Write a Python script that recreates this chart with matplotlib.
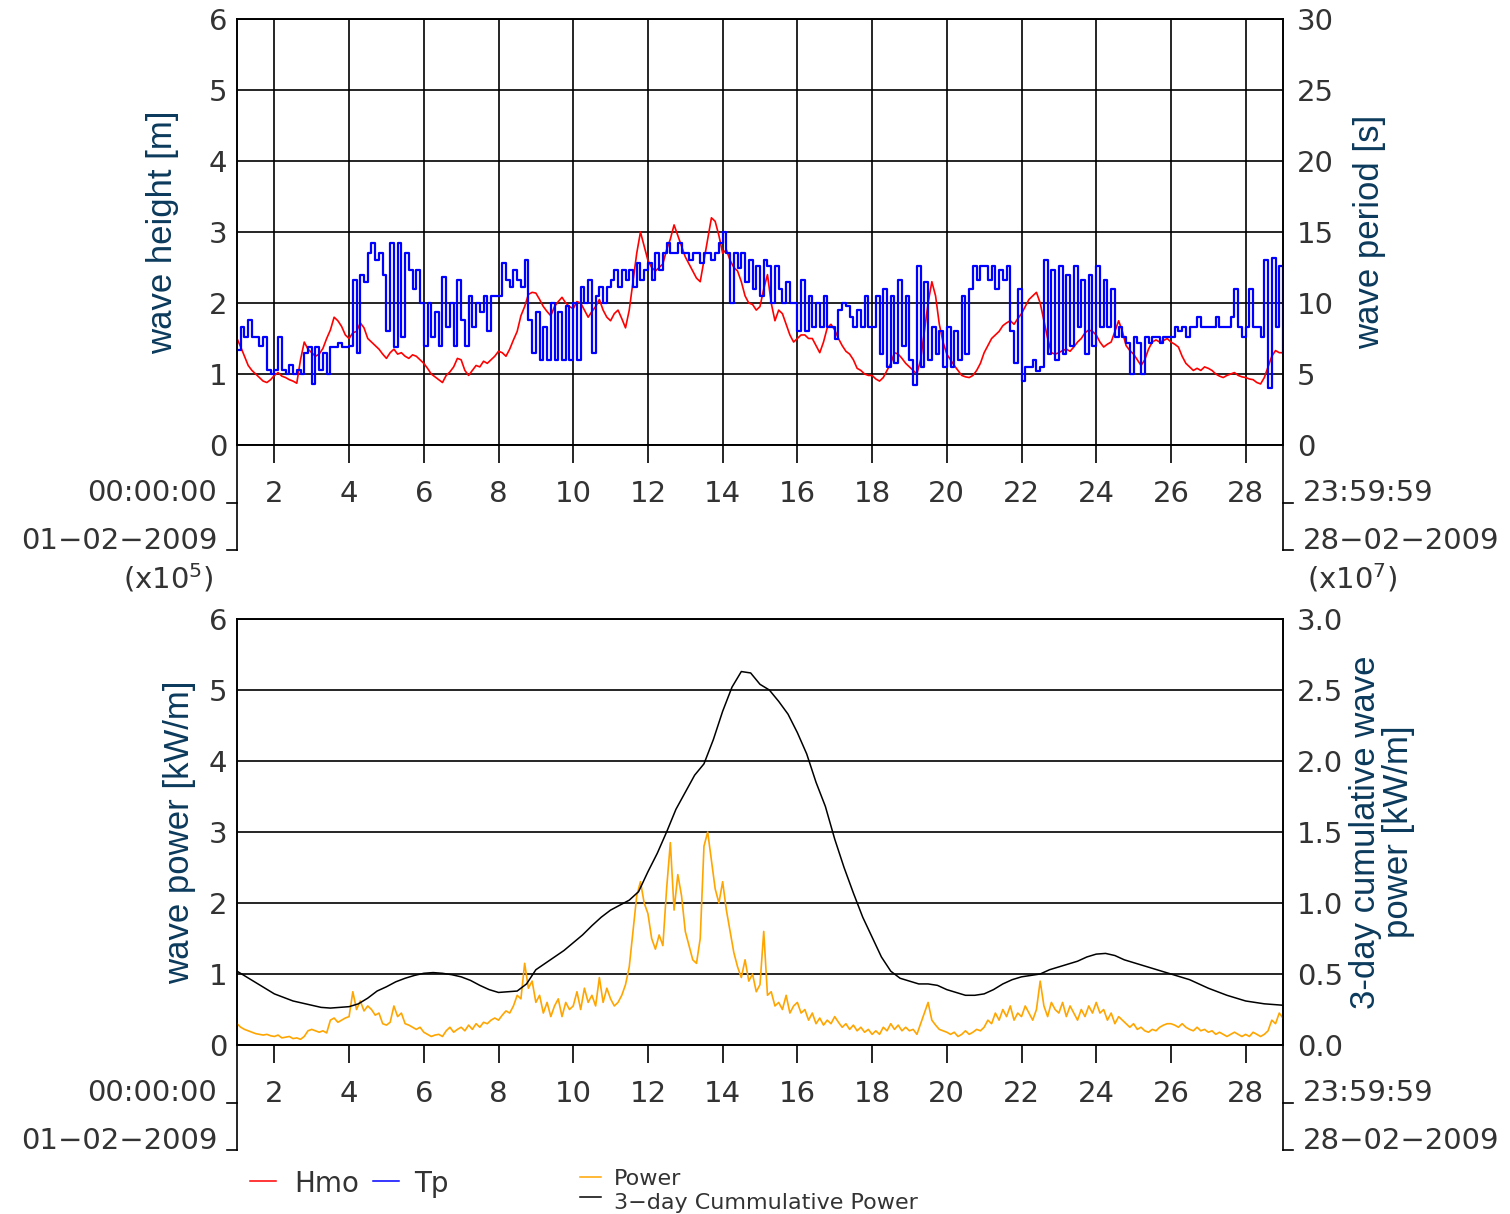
import numpy as np
import matplotlib.pyplot as plt
from matplotlib.lines import Line2D

# ---- data (days in Feb 2009, 1 = 01-02 00:00) ----
# significant wave height Hmo [m], every 0.1 day
hmo = [1.5, 1.38, 1.25, 1.12, 1.05, 1.0, 0.95, 0.9, 0.88, 0.92,
       0.98, 1.02, 0.97, 0.95, 0.92, 0.9, 0.87, 1.2, 1.45, 1.35,
       1.3, 1.25, 1.28, 1.36, 1.5, 1.62, 1.8, 1.75, 1.67, 1.55,
       1.5, 1.58, 1.6, 1.72, 1.65, 1.5, 1.45, 1.4, 1.35, 1.28,
       1.22, 1.3, 1.35, 1.28, 1.3, 1.25, 1.22, 1.27, 1.25, 1.2,
       1.15, 1.08, 1.0, 0.96, 0.92, 0.88, 0.98, 1.03, 1.1, 1.22,
       1.2, 1.05, 0.98, 1.05, 1.12, 1.1, 1.18, 1.15, 1.2, 1.25,
       1.32, 1.3, 1.25, 1.35, 1.48, 1.6, 1.82, 1.95, 2.12, 2.15,
       2.14, 2.05, 1.95, 1.88, 1.82, 1.95, 2.02, 2.08, 2.0, 1.95,
       1.92, 2.02, 2.0, 1.9, 1.8, 1.88, 1.95, 2.05, 1.9, 1.8,
       1.75, 1.85, 1.9, 1.78, 1.65, 1.9, 2.3, 2.7, 3.0, 2.8,
       2.6, 2.5, 2.45, 2.5, 2.55, 2.75, 2.9, 3.1, 2.95, 2.8,
       2.65, 2.55, 2.45, 2.35, 2.3, 2.6, 2.9, 3.2, 3.15, 2.95,
       2.7, 2.75, 2.6, 2.5, 2.45, 2.3, 2.1, 2.0, 1.98, 1.9,
       1.95, 2.2, 2.4, 2.0, 1.75, 1.9, 1.85, 1.7, 1.55, 1.45,
       1.5, 1.55, 1.55, 1.5, 1.5, 1.4, 1.3, 1.45, 1.65, 1.7,
       1.62, 1.5, 1.4, 1.32, 1.28, 1.2, 1.08, 1.05, 1.0, 0.98,
       0.98, 0.93, 0.9, 0.95, 1.05, 1.15, 1.3, 1.28, 1.22, 1.15,
       1.1, 1.05, 1.0, 1.2, 1.6, 2.0, 2.3, 2.1, 1.7, 1.45,
       1.28, 1.2, 1.12, 1.05, 0.98, 0.96, 0.95, 0.98, 1.05, 1.15,
       1.3, 1.4, 1.5, 1.55, 1.6, 1.68, 1.72, 1.75, 1.7, 1.78,
       1.85, 1.95, 2.05, 2.1, 2.15, 2.0, 1.75, 1.5, 1.3, 1.28,
       1.3, 1.33, 1.35, 1.32, 1.38, 1.45, 1.5, 1.58, 1.62, 1.6,
       1.55, 1.45, 1.38, 1.42, 1.45, 1.6, 1.75, 1.6, 1.4, 1.33,
       1.28, 1.2, 1.12, 1.2, 1.35, 1.45, 1.48, 1.45, 1.47, 1.5,
       1.45, 1.42, 1.38, 1.25, 1.15, 1.1, 1.05, 1.08, 1.05, 1.1,
       1.08, 1.05, 1.0, 0.97, 0.95, 0.98, 1.0, 1.02, 0.98, 0.96,
       0.95, 0.93, 0.92, 0.88, 0.86, 0.95, 1.1, 1.25, 1.33, 1.3,
       1.3]

# peak period Tp [s], every 0.1 day
tp = [6.7, 8.3, 7.6, 8.8, 7.6, 7.6, 7.0, 7.6, 5.3, 5.0,
      5.3, 7.6, 5.3, 5.0, 5.6, 5.0, 5.3, 5.0, 6.5, 6.9,
      4.3, 6.9, 5.3, 6.5, 5.0, 6.9, 6.9, 7.2, 6.9, 6.9,
      7.0, 11.6, 6.5, 12.0, 11.5, 13.5, 14.2, 13.0, 13.5, 12.0,
      8.0, 14.2, 6.9, 14.2, 7.6, 13.5, 12.3, 11.0, 12.3, 10.0,
      7.0, 10.0, 7.6, 9.4, 7.0, 11.8, 8.3, 10.0, 7.0, 11.6,
      8.8, 7.0, 10.5, 8.3, 10.0, 9.4, 10.5, 8.0, 10.5, 10.5,
      10.5, 12.8, 11.6, 11.1, 12.3, 11.6, 11.1, 13.0, 8.8, 6.5,
      9.4, 6.0, 8.3, 6.0, 10.0, 6.0, 9.4, 6.0, 9.8, 6.0,
      10.0, 6.0, 11.1, 10.0, 11.6, 6.5, 10.5, 11.1, 10.0, 11.1,
      11.6, 12.3, 11.1, 12.3, 11.6, 12.3, 11.1, 12.8, 11.6, 12.3,
      12.8, 11.6, 13.5, 12.3, 13.5, 14.2, 13.5, 13.5, 14.2, 13.5,
      13.5, 13.0, 13.5, 13.5, 12.8, 13.5, 13.5, 13.0, 13.5, 14.2,
      15.0, 13.5, 10.0, 13.5, 12.5, 13.5, 11.5, 13.0, 11.0, 12.6,
      10.5, 13.0, 12.6, 10.0, 12.6, 11.0, 10.0, 11.5, 10.0, 10.0,
      8.0, 11.6, 8.0, 10.5, 8.3, 10.0, 8.3, 10.5, 8.3, 8.3,
      7.5, 9.5, 10.0, 9.8, 9.0, 8.3, 9.5, 8.3, 10.5, 8.3,
      8.3, 10.5, 6.4, 11.0, 5.5, 10.5, 5.8, 11.6, 7.0, 10.5,
      6.0, 4.2, 12.6, 5.5, 11.5, 6.0, 8.3, 6.4, 8.0, 5.5,
      8.3, 5.5, 8.0, 6.0, 10.5, 6.4, 11.0, 12.6, 11.6, 12.6,
      12.6, 11.6, 12.6, 11.0, 12.3, 11.6, 12.6, 8.0, 5.8, 11.0,
      4.5, 5.5, 5.5, 6.0, 5.2, 5.5, 13.0, 6.4, 12.3, 6.0,
      12.6, 6.4, 12.0, 7.0, 12.6, 8.3, 11.6, 6.4, 12.0, 7.0,
      12.6, 8.3, 11.6, 8.3, 11.0, 7.6, 8.3, 7.6, 7.2, 5.0,
      7.6, 7.2, 5.0, 7.6, 7.2, 7.6, 7.6, 7.2, 7.6, 7.6,
      7.6, 8.3, 8.0, 8.3, 7.6, 8.3, 8.3, 9.0, 8.3, 8.3,
      8.3, 8.3, 9.0, 8.3, 8.3, 8.3, 9.0, 11.0, 8.3, 7.6,
      8.3, 11.0, 8.3, 8.3, 7.6, 13.0, 4.0, 13.2, 8.3, 12.6,
      6.5]

# wave power (x1e5), every 0.1 day
power = [0.30, 0.25, 0.22, 0.2, 0.18, 0.16, 0.15, 0.14, 0.15, 0.13,
         0.12, 0.14, 0.1, 0.11, 0.12, 0.09, 0.1, 0.08, 0.12, 0.2,
         0.22, 0.2, 0.18, 0.2, 0.17, 0.35, 0.38, 0.32, 0.35, 0.38,
         0.4, 0.75, 0.5, 0.62, 0.48, 0.55, 0.5, 0.42, 0.45, 0.3,
         0.28, 0.32, 0.55, 0.4, 0.45, 0.3, 0.28, 0.25, 0.22, 0.25,
         0.18, 0.15, 0.12, 0.14, 0.15, 0.12, 0.2, 0.25, 0.18, 0.22,
         0.25, 0.2, 0.28, 0.22, 0.3, 0.25, 0.32, 0.3, 0.35, 0.38,
         0.35, 0.42, 0.48, 0.45, 0.55, 0.7, 0.65, 1.15, 0.8, 0.9,
         0.6, 0.7, 0.45, 0.6, 0.4, 0.55, 0.65, 0.4, 0.6, 0.5,
         0.55, 0.75, 0.5, 0.8, 0.6, 0.7, 0.55, 0.95, 0.6, 0.8,
         0.65, 0.55, 0.6, 0.7, 0.85, 1.1, 1.6, 2.1, 2.3, 2.0,
         1.85, 1.5, 1.35, 1.55, 1.4, 2.2, 2.85, 1.9, 2.4, 2.1,
         1.6, 1.4, 1.2, 1.15, 1.5, 2.8, 3.0, 2.6, 2.2, 2.0,
         2.3, 1.9, 1.6, 1.3, 1.1, 0.95, 1.2, 0.9, 1.0, 0.75,
         0.85, 1.6, 0.7, 0.75, 0.55, 0.6, 0.5, 0.7, 0.45, 0.55,
         0.6, 0.45, 0.5, 0.35, 0.45, 0.3, 0.38, 0.28, 0.35, 0.3,
         0.4, 0.32, 0.25, 0.3, 0.22, 0.28, 0.2, 0.25, 0.18, 0.22,
         0.15, 0.2, 0.15, 0.25, 0.2, 0.3, 0.22, 0.28, 0.2, 0.25,
         0.2, 0.22, 0.15, 0.3, 0.45, 0.6, 0.35, 0.28, 0.22, 0.2,
         0.18, 0.15, 0.18, 0.12, 0.15, 0.2, 0.15, 0.18, 0.22, 0.2,
         0.25, 0.35, 0.3, 0.45, 0.35, 0.5, 0.4, 0.55, 0.35, 0.45,
         0.4, 0.55, 0.45, 0.35, 0.5, 0.9, 0.55, 0.4, 0.6, 0.5,
         0.45, 0.6, 0.4, 0.55, 0.45, 0.35, 0.5, 0.4, 0.55, 0.45,
         0.6, 0.45, 0.5, 0.35, 0.45, 0.3, 0.4, 0.35, 0.3, 0.25,
         0.3, 0.22, 0.25, 0.2, 0.18, 0.22, 0.2, 0.25, 0.28, 0.3,
         0.3, 0.28, 0.25, 0.3, 0.25, 0.22, 0.2, 0.25, 0.2, 0.22,
         0.18, 0.2, 0.15, 0.18, 0.15, 0.12, 0.15, 0.18, 0.15, 0.12,
         0.15, 0.12, 0.18, 0.15, 0.12, 0.15, 0.2, 0.35, 0.3, 0.45,
         0.38]

# 3-day cumulative power (x1e7), every 0.25 day
cumul = [0.52, 0.48, 0.44, 0.40,
         0.36, 0.335, 0.31, 0.295,
         0.28, 0.265, 0.26, 0.265,
         0.27, 0.29, 0.33, 0.38,
         0.41, 0.445, 0.47, 0.49,
         0.505, 0.51, 0.505, 0.495,
         0.48, 0.455, 0.42, 0.39,
         0.37, 0.375, 0.38, 0.43,
         0.53, 0.575, 0.62, 0.665,
         0.72, 0.775, 0.84, 0.9,
         0.95, 0.985, 1.02, 1.08,
         1.22, 1.35, 1.50, 1.66,
         1.78, 1.9, 1.98, 2.15,
         2.35, 2.52, 2.63, 2.62,
         2.54, 2.5, 2.42, 2.33,
         2.2, 2.05, 1.85, 1.68,
         1.45, 1.25, 1.07, 0.9,
         0.76, 0.62, 0.52, 0.47,
         0.45, 0.43, 0.43, 0.42,
         0.39, 0.37, 0.35, 0.35,
         0.36, 0.39, 0.43, 0.46,
         0.48, 0.49, 0.5, 0.53,
         0.55, 0.57, 0.59, 0.62,
         0.64, 0.645, 0.63, 0.6,
         0.58, 0.56, 0.54, 0.52,
         0.5, 0.48, 0.46, 0.43,
         0.40, 0.375, 0.35, 0.33,
         0.31, 0.3, 0.29, 0.285,
         0.28]

day_ticks = list(range(2, 29, 2))

t_hmo = np.linspace(1, 29, len(hmo))
t_tp = np.linspace(1, 29, len(tp))
t_pow = np.linspace(1, 29, len(power))
t_cum = np.linspace(1, 29, len(cumul))

plt.rcParams['font.family'] = 'DejaVu Sans'
lab_font = dict(family='Liberation Sans', size=25, color='#0b3a5c')
tick_size = 21
tick_col = '#333333'

W, H = 1510, 1214
fig = plt.figure(figsize=(W / 100, H / 100), dpi=100)


def px(x, y):
    # pixel position -> figure fraction
    return x / W, 1 - y / H


def style_axes(ax, vgrid):
    ax.set_xlim(1, 29)
    ax.set_xticks(day_ticks)
    ax.tick_params(axis='x', direction='out', length=13, width=1.2,
                   labelsize=tick_size, pad=12, colors='black', labelcolor=tick_col)
    ax.tick_params(axis='y', length=0, labelsize=tick_size, pad=7, labelcolor=tick_col)
    for s in ax.spines.values():
        s.set_linewidth(1.2)
    ax.grid(True, axis='y', color='black', linewidth=1.2)
    if vgrid:
        ax.grid(True, axis='x', color='black', linewidth=1.2)
    ax.set_axisbelow(True)
    # bracket below the axes with start/end date
    ext = -105 / 426
    mid = -58 / 426
    tk = 10 / 1046
    for xs, sgn in ((0, -1), (1, 1)):
        ax.add_line(Line2D([xs, xs], [0, ext], transform=ax.transAxes,
                           color='black', lw=1.2, clip_on=False))
        for yy in (mid, ext):
            ax.add_line(Line2D([xs, xs + sgn * tk], [yy, yy], transform=ax.transAxes,
                               color='black', lw=1.2, clip_on=False))
    t1 = -48 / 426
    t2 = -96 / 426
    ax.text(-0.019, t1, '00:00:00', transform=ax.transAxes, ha='right', va='center',
            fontsize=tick_size, color=tick_col)
    ax.text(-0.019, t2, '01\u221202\u22122009', transform=ax.transAxes, ha='right',
            va='center', fontsize=tick_size, color=tick_col)
    ax.text(1.019, t1, '23:59:59', transform=ax.transAxes, ha='left', va='center',
            fontsize=tick_size, color=tick_col)
    ax.text(1.019, t2, '28\u221202\u22122009', transform=ax.transAxes, ha='left',
            va='center', fontsize=tick_size, color=tick_col)


# ---- top panel: wave height / period ----
ax1 = fig.add_axes([237 / W, 1 - 445 / H, 1046 / W, 426 / H])
style_axes(ax1, True)
ax1.set_ylim(0, 6)
ax1.set_yticks(range(0, 7))
ax1.plot(t_hmo, hmo, color='red', lw=1.2, zorder=3)
ax1.set_ylabel('wave height [m]', fontdict=lab_font, labelpad=21)

ax1b = ax1.twinx()
ax1b.set_ylim(0, 30)
ax1b.set_yticks(range(0, 31, 5))
ax1b.tick_params(axis='y', length=0, labelsize=tick_size, pad=10, labelcolor=tick_col)
ax1b.step(t_tp, tp, where='post', color='blue', lw=1.6)
ax1b.set_ylabel('wave period [s]', fontdict=lab_font, labelpad=14)
for s in ax1b.spines.values():
    s.set_linewidth(1.2)

# ---- bottom panel: wave power ----
ax2 = fig.add_axes([237 / W, 1 - 1045 / H, 1046 / W, 426 / H])
style_axes(ax2, False)
ax2.set_ylim(0, 6)
ax2.set_yticks(range(0, 7))
ax2.plot(t_pow, power, color='orange', lw=1.2, zorder=3)
ax2.set_ylabel('wave power [kW/m]', fontdict=lab_font, labelpad=9)

ax2b = ax2.twinx()
ax2b.set_ylim(0, 3)
ax2b.set_yticks(np.arange(0, 3.01, 0.5))
ax2b.set_yticklabels([f'{v:.1f}' for v in np.arange(0, 3.01, 0.5)])
ax2b.tick_params(axis='y', length=0, labelsize=tick_size, pad=10, labelcolor=tick_col)
ax2b.plot(t_cum, cumul, color='black', lw=1.1)
ax2b.set_ylabel('3-day cumulative wave\npower [kW/m]', fontdict=lab_font,
                labelpad=4, linespacing=1.0)
for s in ax2b.spines.values():
    s.set_linewidth(1.2)

# multipliers between the panels
fig.text(*px(168, 578), '(x10$^5$)', ha='center', va='center', fontsize=tick_size, color=tick_col)
fig.text(*px(1352, 578), '(x10$^7$)', ha='center', va='center', fontsize=tick_size, color=tick_col)


# ---- legends at the bottom ----
def leg(x0, x1, y, ty, color, label, size, tx):
    a, b = px(x0, y)
    c, _ = px(x1, y)
    fig.add_artist(Line2D([a, c], [b, b], color=color, lw=1.1))
    fig.text(*px(tx, ty), label, ha='left', va='center', fontsize=size, color=tick_col)


leg(250, 276, 1181, 1184, 'red', 'Hmo', 20, 294)
leg(373, 399, 1181, 1184, 'blue', 'Tp', 20, 414)
leg(580, 601, 1177, 1179, 'orange', 'Power', 16, 614)
leg(580, 601, 1197, 1203, 'black', '3\u2212day Cummulative Power', 16, 614)

plt.savefig('out.png', dpi=100)
